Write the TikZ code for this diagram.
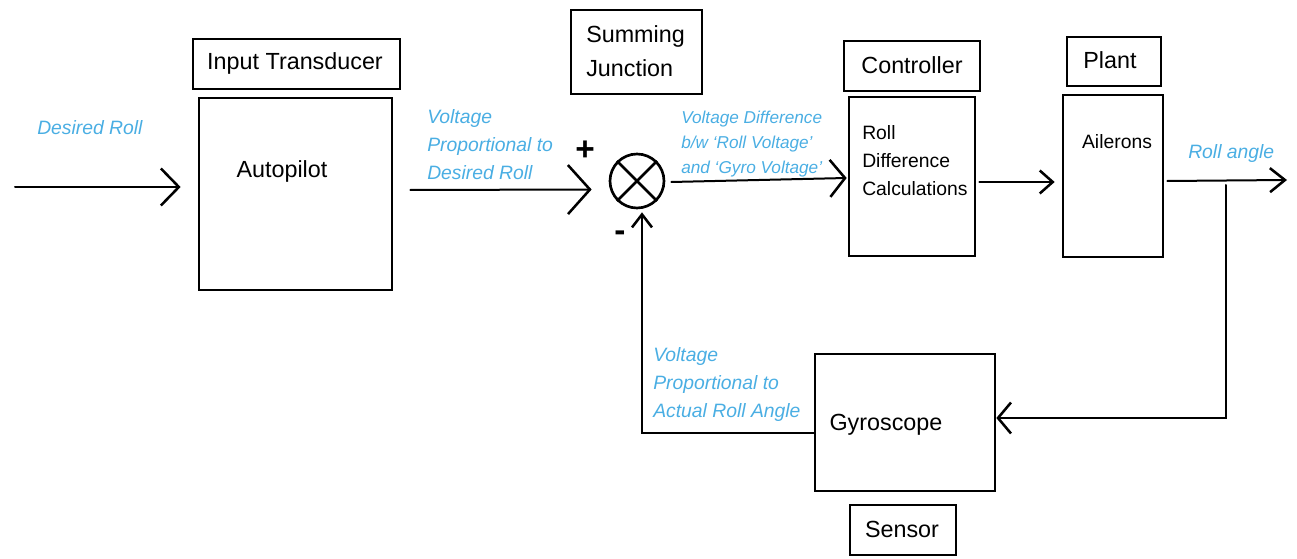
\documentclass[tikz,border=0pt]{standalone}
\usepackage{fontspec}
\setmainfont{Liberation Sans}
\usetikzlibrary{arrows.meta,fit,calc}
\definecolor{lblue}{HTML}{4AAEE3}
\tikzset{
  box/.style={draw, line width=2pt, inner sep=0pt},
  txt/.style={inner sep=0pt, font=\fontsize{17.5}{21}\selectfont},
  smalltxt/.style={inner sep=0pt, align=left, font=\fontsize{14.5}{21}\selectfont},
  lbl/.style={inner sep=0pt, align=left, text=lblue, font=\fontsize{14.5}{21}\selectfont\itshape},
  smalllbl/.style={inner sep=0pt, align=left, text=lblue, font=\fontsize{12.9}{19}\selectfont\itshape},
  sign/.style={inner sep=0pt, font=\fontsize{25}{25}\selectfont\bfseries},
  conn/.style={line width=1.5pt, line cap=round},
  chevA/.tip={Straight Barb[length=13.5pt,width=27.75pt,line width=1.9pt]},
  chevB/.tip={Straight Barb[length=16.5pt,width=36.75pt,line width=1.9pt]},
  chevC/.tip={Straight Barb[length=11.25pt,width=27.75pt,line width=1.9pt]},
  chevD/.tip={Straight Barb[length=9.75pt,width=17.25pt,line width=1.9pt]},
  chevE/.tip={Straight Barb[length=11.25pt,width=18pt,line width=1.9pt]},
  chevF/.tip={Straight Barb[length=9.75pt,width=23.25pt,line width=1.9pt]},
  chevG/.tip={Straight Barb[length=9.75pt,width=15pt,line width=1.9pt]},
}
\begin{document}
\begin{tikzpicture}[x=0.75pt,y=-0.75pt]
\useasboundingbox (0,0) rectangle (1297,559);

% boxes
\node[box, fit={(193,39) (400,89)}] (itbox) {};
\node[box, fit={(199,98) (392,290)}] (auto) {};
\node[box, fit={(571,10) (702,94)}] (sjbox) {};
\node[box, fit={(844,41) (980,91)}] (ctrlbox) {};
\node[box, fit={(849,97) (975,256)}] (ctrl) {};
\node[box, fit={(1067,37) (1161,86)}] (plantbox) {};
\node[box, fit={(1063,95) (1163,257)}] (ail) {};
\node[box, fit={(815,354) (995,491)}] (gyro) {};
\node[box, fit={(850,505) (956,555)}] (sensbox) {};

% summing junction
\node[draw, circle, line width=2pt, minimum size=40.5pt, inner sep=0pt] (sum) at (637,181) {};
\draw[line width=2pt] (sum.north west) -- (sum.south east) (sum.north east) -- (sum.south west);

% texts in boxes
\node[txt] (tit) at (295,63) {Input Transducer};
\node[txt] (tauto) at (282,171) {Autopilot};
\node[txt, align=left, anchor=west, font=\fontsize{17.5}{25.5}\selectfont] (tsj) at (586,51) {Summing\\Junction};
\node[txt] (tctrlbox) at (912,65) {Controller};
\node[smalltxt, anchor=west] (tctrl) at (862,161) {Roll\\Difference\\Calculations};
\node[txt] (tplant) at (1110,60) {Plant};
\node[smalltxt] (tail) at (1117,142) {Ailerons};
\node[txt] (tgyro) at (886,425) {Gyroscope};
\node[txt] (tsens) at (902,529) {Sensor};

% signs
\node[sign] (plus) at (585,151) {+};
\node[sign] (minus) at (620,236) {-};

% blue labels
\node[lbl, anchor=west] (ldes) at (37,128) {Desired Roll};
\node[lbl, anchor=west] (lvp) at (427,145) {Voltage\\Proportional to\\Desired Roll};
\node[smalllbl, anchor=west] (lvd) at (681,144) {Voltage Difference\\b/w ‘Roll Voltage’\\and ‘Gyro Voltage’};
\node[lbl, anchor=west] (lroll) at (1188,154) {Roll angle};
\node[lbl, anchor=west] (lact) at (653,385) {Voltage\\Proportional to\\Actual Roll Angle};

% connectors
\coordinate (in) at (15,187);
\coordinate (out) at (1287,180);
\coordinate (fb0) at (1226,185);
\draw[conn, -{chevA}] (in) -- ($(in -| auto.west)+(-17,0)$);
\draw[conn, -{chevB}] ($(auto.east)+(17,-4)$) -- ($(sum.west)+(-17,8.5)$);
\draw[conn, -{chevC}] ($(sum.east)+(6,1)$) -- ($(ctrl.west)+(-1,1.5)$);
\draw[conn, -{chevD}] ($(ctrl.east)+(3,5.5)$) -- ($(ail.west)+(-7,6)$);
\draw[conn, -{chevE}] ($(ail.east)+(3,5)$) -- (out);
\draw[conn, -{chevF}] (fb0) |- ($(gyro.east)+(0,-4.5)$);
\draw[conn, -{chevG}] ($(gyro.west)+(0,11)$) -| ($(sum.south)+(5,3)$);
\end{tikzpicture}
\end{document}
